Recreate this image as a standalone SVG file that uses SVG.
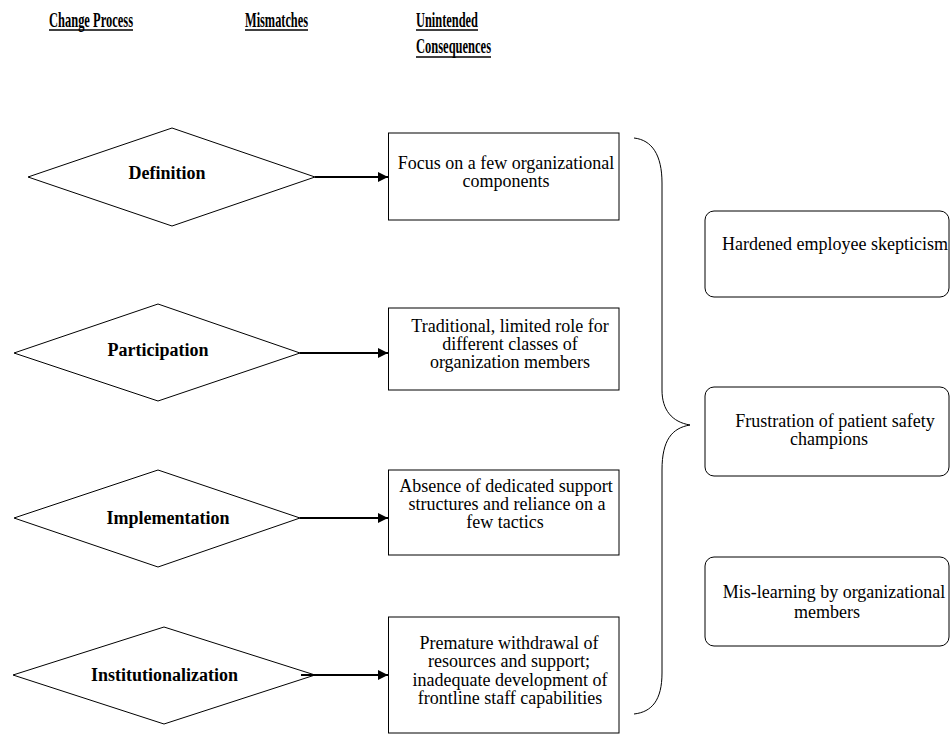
<svg xmlns="http://www.w3.org/2000/svg" width="951" height="734" viewBox="0 0 951 734">
<style>
.hd{font-family:"Liberation Serif","Times New Roman",serif;font-weight:bold;font-size:22px;fill:#000}
.ul{stroke:#000;stroke-width:1.5}
.dia{fill:#fff;stroke:#000;stroke-width:1}
.dl{font-family:"Liberation Serif","Times New Roman",serif;font-weight:bold;font-size:18px;fill:#000;text-anchor:middle}
.box{fill:#fff;stroke:#000;stroke-width:1}
.bt{font-family:"Liberation Serif","Times New Roman",serif;font-size:18px;fill:#000;text-anchor:middle}
.con{stroke:#000;stroke-width:2;fill:none;marker-end:url(#ah)}
.brace{stroke:#000;stroke-width:1;fill:none}
</style>
<defs>
<marker id="ah" markerUnits="userSpaceOnUse" markerWidth="12" markerHeight="12" refX="10" refY="5" orient="auto">
<path d="M0,0 L10,5 L0,10 Z" fill="#000"/>
</marker>
</defs>
<rect width="951" height="734" fill="#fff"/>
<g id="headers">
<text class="hd" x="49" y="27" textLength="84" lengthAdjust="spacingAndGlyphs">Change Process</text>
<line class="ul" x1="49" y1="30" x2="133" y2="30"/>
<text class="hd" x="245" y="27" textLength="63" lengthAdjust="spacingAndGlyphs">Mismatches</text>
<line class="ul" x1="245" y1="30" x2="308" y2="30"/>
<text class="hd" x="416" y="27" textLength="62" lengthAdjust="spacingAndGlyphs">Unintended</text>
<line class="ul" x1="416" y1="30" x2="478" y2="30"/>
<text class="hd" x="416" y="53" textLength="75" lengthAdjust="spacingAndGlyphs">Consequences</text>
<line class="ul" x1="416" y1="57" x2="491" y2="57"/>
</g>
<g id="definition">
<polygon class="dia" points="28,177 172,128 315,177 172,226"/>
<text class="dl" x="167" y="179">Definition</text>
</g>
<g id="participation">
<polygon class="dia" points="14,353 158,304 300,353 158,401"/>
<text class="dl" x="158" y="356">Participation</text>
</g>
<g id="implementation">
<polygon class="dia" points="14,518 158,470 300,518 158,567"/>
<text class="dl" x="168" y="524">Implementation</text>
</g>
<g id="institutionalization">
<polygon class="dia" points="13,675 164,627 315,675 164,724"/>
<text class="dl" x="164.5" y="681">Institutionalization</text>
</g>
<g id="m1">
<rect class="box" x="388.5" y="133" width="230.5" height="87"/>
<text class="bt" x="506" y="169">Focus on a few organizational</text>
<text class="bt" x="506" y="187">components</text>
</g>
<g id="m2">
<rect class="box" x="388.5" y="308" width="230.5" height="82"/>
<text class="bt" x="510" y="332">Traditional, limited role for</text>
<text class="bt" x="510" y="350">different classes of</text>
<text class="bt" x="510" y="368">organization members</text>
</g>
<g id="m3">
<rect class="box" x="388.5" y="470" width="230.5" height="85"/>
<text class="bt" x="506" y="492">Absence of dedicated support</text>
<text class="bt" x="507" y="510">structures and reliance on a</text>
<text class="bt" x="505" y="528">few tactics</text>
</g>
<g id="m4">
<rect class="box" x="388.5" y="617" width="230.5" height="116"/>
<text class="bt" x="509" y="649">Premature withdrawal of</text>
<text class="bt" x="509" y="667">resources and support;</text>
<text class="bt" x="510" y="686">inadequate development of</text>
<text class="bt" x="510" y="704">frontline staff capabilities</text>
</g>
<g id="c1">
<rect class="box" x="705" y="211" width="244" height="86" rx="9" ry="9"/>
<text class="bt" x="835" y="250">Hardened employee skepticism</text>
</g>
<g id="c2">
<rect class="box" x="705" y="387" width="244" height="89" rx="9" ry="9"/>
<text class="bt" x="835" y="427">Frustration of patient safety</text>
<text class="bt" x="829" y="445">champions</text>
</g>
<g id="c3">
<rect class="box" x="705" y="557" width="244" height="89" rx="9" ry="9"/>
<text class="bt" x="834" y="598">Mis-learning by organizational</text>
<text class="bt" x="827" y="618">members</text>
</g>
<g id="connectors">
<line class="con" x1="315" y1="177" x2="388" y2="177"/>
<line class="con" x1="300" y1="353" x2="388" y2="353"/>
<line class="con" x1="300" y1="518" x2="388" y2="518"/>
<line class="con" x1="301" y1="675" x2="388" y2="675"/>
<path class="brace" d="M634,138 C652,140 662,155 662,183 L662,390 C662,410 672,422 690,425 C672,428 662,440 662,470 L662,673 C662,700 652,712 634,714"/>
</g>
</svg>
